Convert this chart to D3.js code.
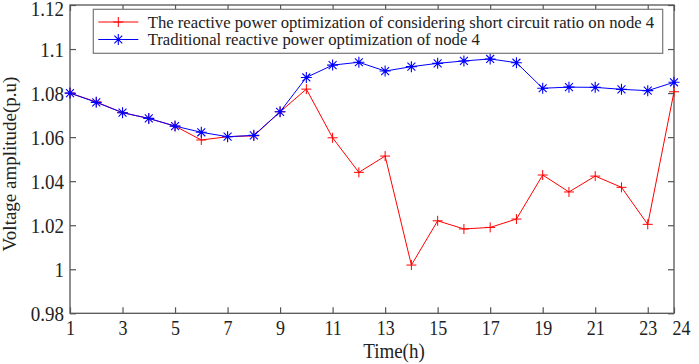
<!DOCTYPE html>
<html><head><meta charset="utf-8">
<script src="https://cdn.jsdelivr.net/npm/d3@7"></script>
<style>body{margin:0;background:#fff}svg{display:block}text{font-family:"Liberation Serif","Times New Roman",serif;fill:#222}</style>
</head><body>
<svg id="c" width="699" height="364"></svg>
<script>
const hours = d3.range(1, 25);
const redValues = [1.0800,1.0760,1.0711,1.0685,1.0650,1.0587,1.0602,1.0606,1.0715,1.0818,1.0597,1.0440,1.0514,1.0019,1.0220,1.0183,1.0190,1.0228,1.0428,1.0351,1.0423,1.0372,1.0204,1.0806];
const blueValues = [1.0800,1.0758,1.0711,1.0685,1.0650,1.0622,1.0602,1.0608,1.0715,1.0871,1.0927,1.0940,1.0900,1.0920,1.0935,1.0946,1.0955,1.0938,1.0822,1.0827,1.0826,1.0817,1.0811,1.0849];
const xTicks = [1,3,5,7,9,11,13,15,17,19,21,23,24];
const yTicks = [0.98,1.0,1.02,1.04,1.06,1.08,1.1,1.12];
const yTickLabels = ["0.98","1","1.02","1.04","1.06","1.08","1.1","1.12"];
const seriesNames = ["The reactive power optimization of considering short circuit ratio on node 4","Traditional reactive power optimization of node 4"];
const seriesColors = ["#ff0000","#0000ff"];
const xTitle = "Time(h)", yTitle = "Voltage amplitude(p.u)";

const L=70,R=674,T=5,B=313.3;
const SY=1.12;
const svg=d3.select("#c");
const x=d3.scaleLinear().domain([1,24]).range([L,R]);
const y=d3.scaleLinear().domain([0.98,1.12]).range([B,T]);
const axisColor="#555";
const FF='"Liberation Serif","Times New Roman",serif';

svg.append("rect").attr("x",L).attr("y",T).attr("width",R-L).attr("height",B-T).attr("fill","none").attr("stroke",axisColor).attr("stroke-width",1.3);

const tl=6;
const gx=svg.append("g").attr("transform",`translate(0,${B})`).call(d3.axisBottom(x).tickValues(xTicks).tickSize(-tl).tickSizeOuter(0).tickPadding(8).tickFormat(d3.format("d")));
const gxt=svg.append("g").attr("transform",`translate(0,${T})`).call(d3.axisTop(x).tickValues(xTicks).tickSize(-tl).tickSizeOuter(0).tickFormat(""));
const gy=svg.append("g").attr("transform",`translate(${L},0)`).call(d3.axisLeft(y).tickValues(yTicks).tickSize(-tl).tickSizeOuter(0).tickPadding(6).tickFormat((d,i)=>yTickLabels[i]));
const gyr=svg.append("g").attr("transform",`translate(${R},0)`).call(d3.axisRight(y).tickValues(yTicks).tickSize(-tl).tickSizeOuter(0).tickFormat(""));
[gx,gxt,gy,gyr].forEach(g=>{g.attr("font-family",null).attr("font-size",null);g.select(".domain").remove();g.selectAll("line").attr("stroke",axisColor).attr("stroke-width",1.2);g.selectAll("text").attr("fill","#222").style("font-family",FF);});
gx.selectAll("text").style("font-size","18px").attr("dy","0.62em").attr("transform",`scale(1,${SY})`);
gx.selectAll("text").filter(d=>d===24).attr("dx",7);
gy.selectAll("text").style("font-size","19px").attr("dy","0.34em").attr("transform",`scale(1,${SY})`);
gy.selectAll("text").filter(d=>d===1.12).attr("dy","0.5em");

svg.append("text").attr("transform",`translate(394,358) scale(1,${SY})`).attr("text-anchor","middle").style("font-size","19px").text(xTitle);
svg.append("text").attr("transform",`translate(16,164) rotate(-90)`).attr("text-anchor","middle").style("font-size","19px").text(yTitle);

const line=d3.line().x((d,i)=>x(hours[i])).y(d=>y(d));
const data=[redValues,blueValues];
function plus(g,cx,cy,c){const ms=5;g.append("path").attr("d",`M${cx-ms},${cy}H${cx+ms}M${cx},${cy-ms}V${cy+ms}`).attr("stroke",c).attr("stroke-width",1).attr("fill","none");}
function star(g,cx,cy,c){const ms=5.5,d=ms*0.72;g.append("path").attr("d",`M${cx-ms},${cy}H${cx+ms}M${cx},${cy-ms}V${cy+ms}M${cx-d},${cy-d}L${cx+d},${cy+d}M${cx-d},${cy+d}L${cx+d},${cy-d}`).attr("stroke",c).attr("stroke-width",1.1).attr("fill","none");
  g.append("circle").attr("cx",cx).attr("cy",cy).attr("r",1.6).attr("fill",c);}
data.forEach((vals,k)=>{
  const g=svg.append("g");
  g.append("path").datum(vals).attr("d",line).attr("fill","none").attr("stroke",seriesColors[k]).attr("stroke-width",1);
  vals.forEach((v,i)=>{ (k===0?plus:star)(g,x(hours[i]),y(v),seriesColors[k]); });
});

const lg=svg.append("g");
lg.append("rect").attr("x",93.3).attr("y",9.3).attr("width",662.7-93.3).attr("height",44).attr("fill","#fff").attr("stroke","#777").attr("stroke-width",1.2);
const rows=[22,39.5];
seriesNames.forEach((n,k)=>{
  const yy=rows[k];
  lg.append("line").attr("x1",98.3).attr("x2",138.3).attr("y1",yy).attr("y2",yy).attr("stroke",seriesColors[k]).attr("stroke-width",1);
  (k===0?plus:star)(lg,118.3,yy,seriesColors[k]);
  lg.append("text").attr("x",147.7).attr("y",yy).attr("dy","0.35em").style("font-size","16.7px").text(n);
});
</script>
</body></html>
